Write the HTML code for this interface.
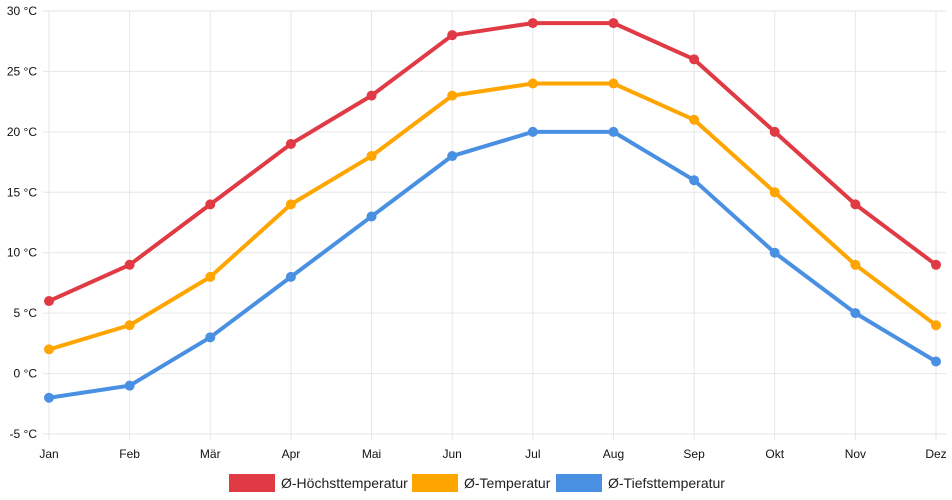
<!DOCTYPE html>
<html><head><meta charset="utf-8"><style>
html,body{margin:0;padding:0;background:#fff;width:952px;height:500px;overflow:hidden;font-family:"Liberation Sans",sans-serif}
</style></head><body>
<svg id="chart" width="952" height="500" xmlns="http://www.w3.org/2000/svg"></svg>
<script>
const months=["Jan","Feb","Mär","Apr","Mai","Jun","Jul","Aug","Sep","Okt","Nov","Dez"];
const highTemps=[6,9,14,19,23,28,29,29,26,20,14,9];
const meanTemps=[2,4,8,14,18,23,24,24,21,15,9,4];
const lowTemps=[-2,-1,3,8,13,18,20,20,16,10,5,1];
const yTicks=[-5,0,5,10,15,20,25,30];
const seriesNames=["Ø-Höchsttemperatur","Ø-Temperatur","Ø-Tiefsttemperatur"];

const svg=document.getElementById('chart');
const NS="http://www.w3.org/2000/svg";
const x0=49,x1=936,yTop=11,yBot=434,vMin=-5,vMax=30;
function xs(i){return x0+(x1-x0)*i/(months.length-1);}
function ys(v){return yBot-(v-vMin)/(vMax-vMin)*(yBot-yTop);}
function mk(tag,attrs){const e=document.createElementNS(NS,tag);for(const k in attrs)e.setAttribute(k,attrs[k]);svg.appendChild(e);return e;}

yTicks.forEach(t=>{
  const l=mk('line',{x1:x0-6,x2:x1+10,y1:ys(t),y2:ys(t),stroke:'#e6e6e6','stroke-width':1});
  
  
  const tx=mk('text',{x:37,y:ys(t)+4,'text-anchor':'end','font-size':12,fill:'#111'});
  tx.textContent=t+' °C';
  
  
});
months.forEach((m,i)=>{
  const l=mk('line',{x1:xs(i),x2:xs(i),y1:yTop,y2:yBot+6,stroke:'#e6e6e6','stroke-width':1});
  
  
  const tx=mk('text',{x:xs(i),y:458,'text-anchor':'middle','font-size':12,fill:'#111'});
  tx.textContent=m;
  
  
});

const series=[[highTemps,'#e03a45','high'],[meanTemps,'#ffa500','mean'],[lowTemps,'#4a90e2','low']];
series.forEach(([d,c,n])=>{
  const p=mk('polyline',{points:d.map((v,i)=>xs(i)+','+ys(v)).join(' '),fill:'none',stroke:c,'stroke-width':4,'stroke-linejoin':'round'});
  
  
  d.forEach((v,i)=>{
    const ci=mk('circle',{cx:xs(i),cy:ys(v),r:5,fill:c});
    
    
  });
});

const legendX=[229,412,556];
series.forEach(([d,c,n],k)=>{
  const r=mk('rect',{x:legendX[k],y:474,width:46,height:18,fill:c});
  
  
  const tx=mk('text',{x:legendX[k]+52,y:488,'font-size':14,fill:'#222'});
  tx.textContent=seriesNames[k];
  
  
});
</script>
</body></html>
